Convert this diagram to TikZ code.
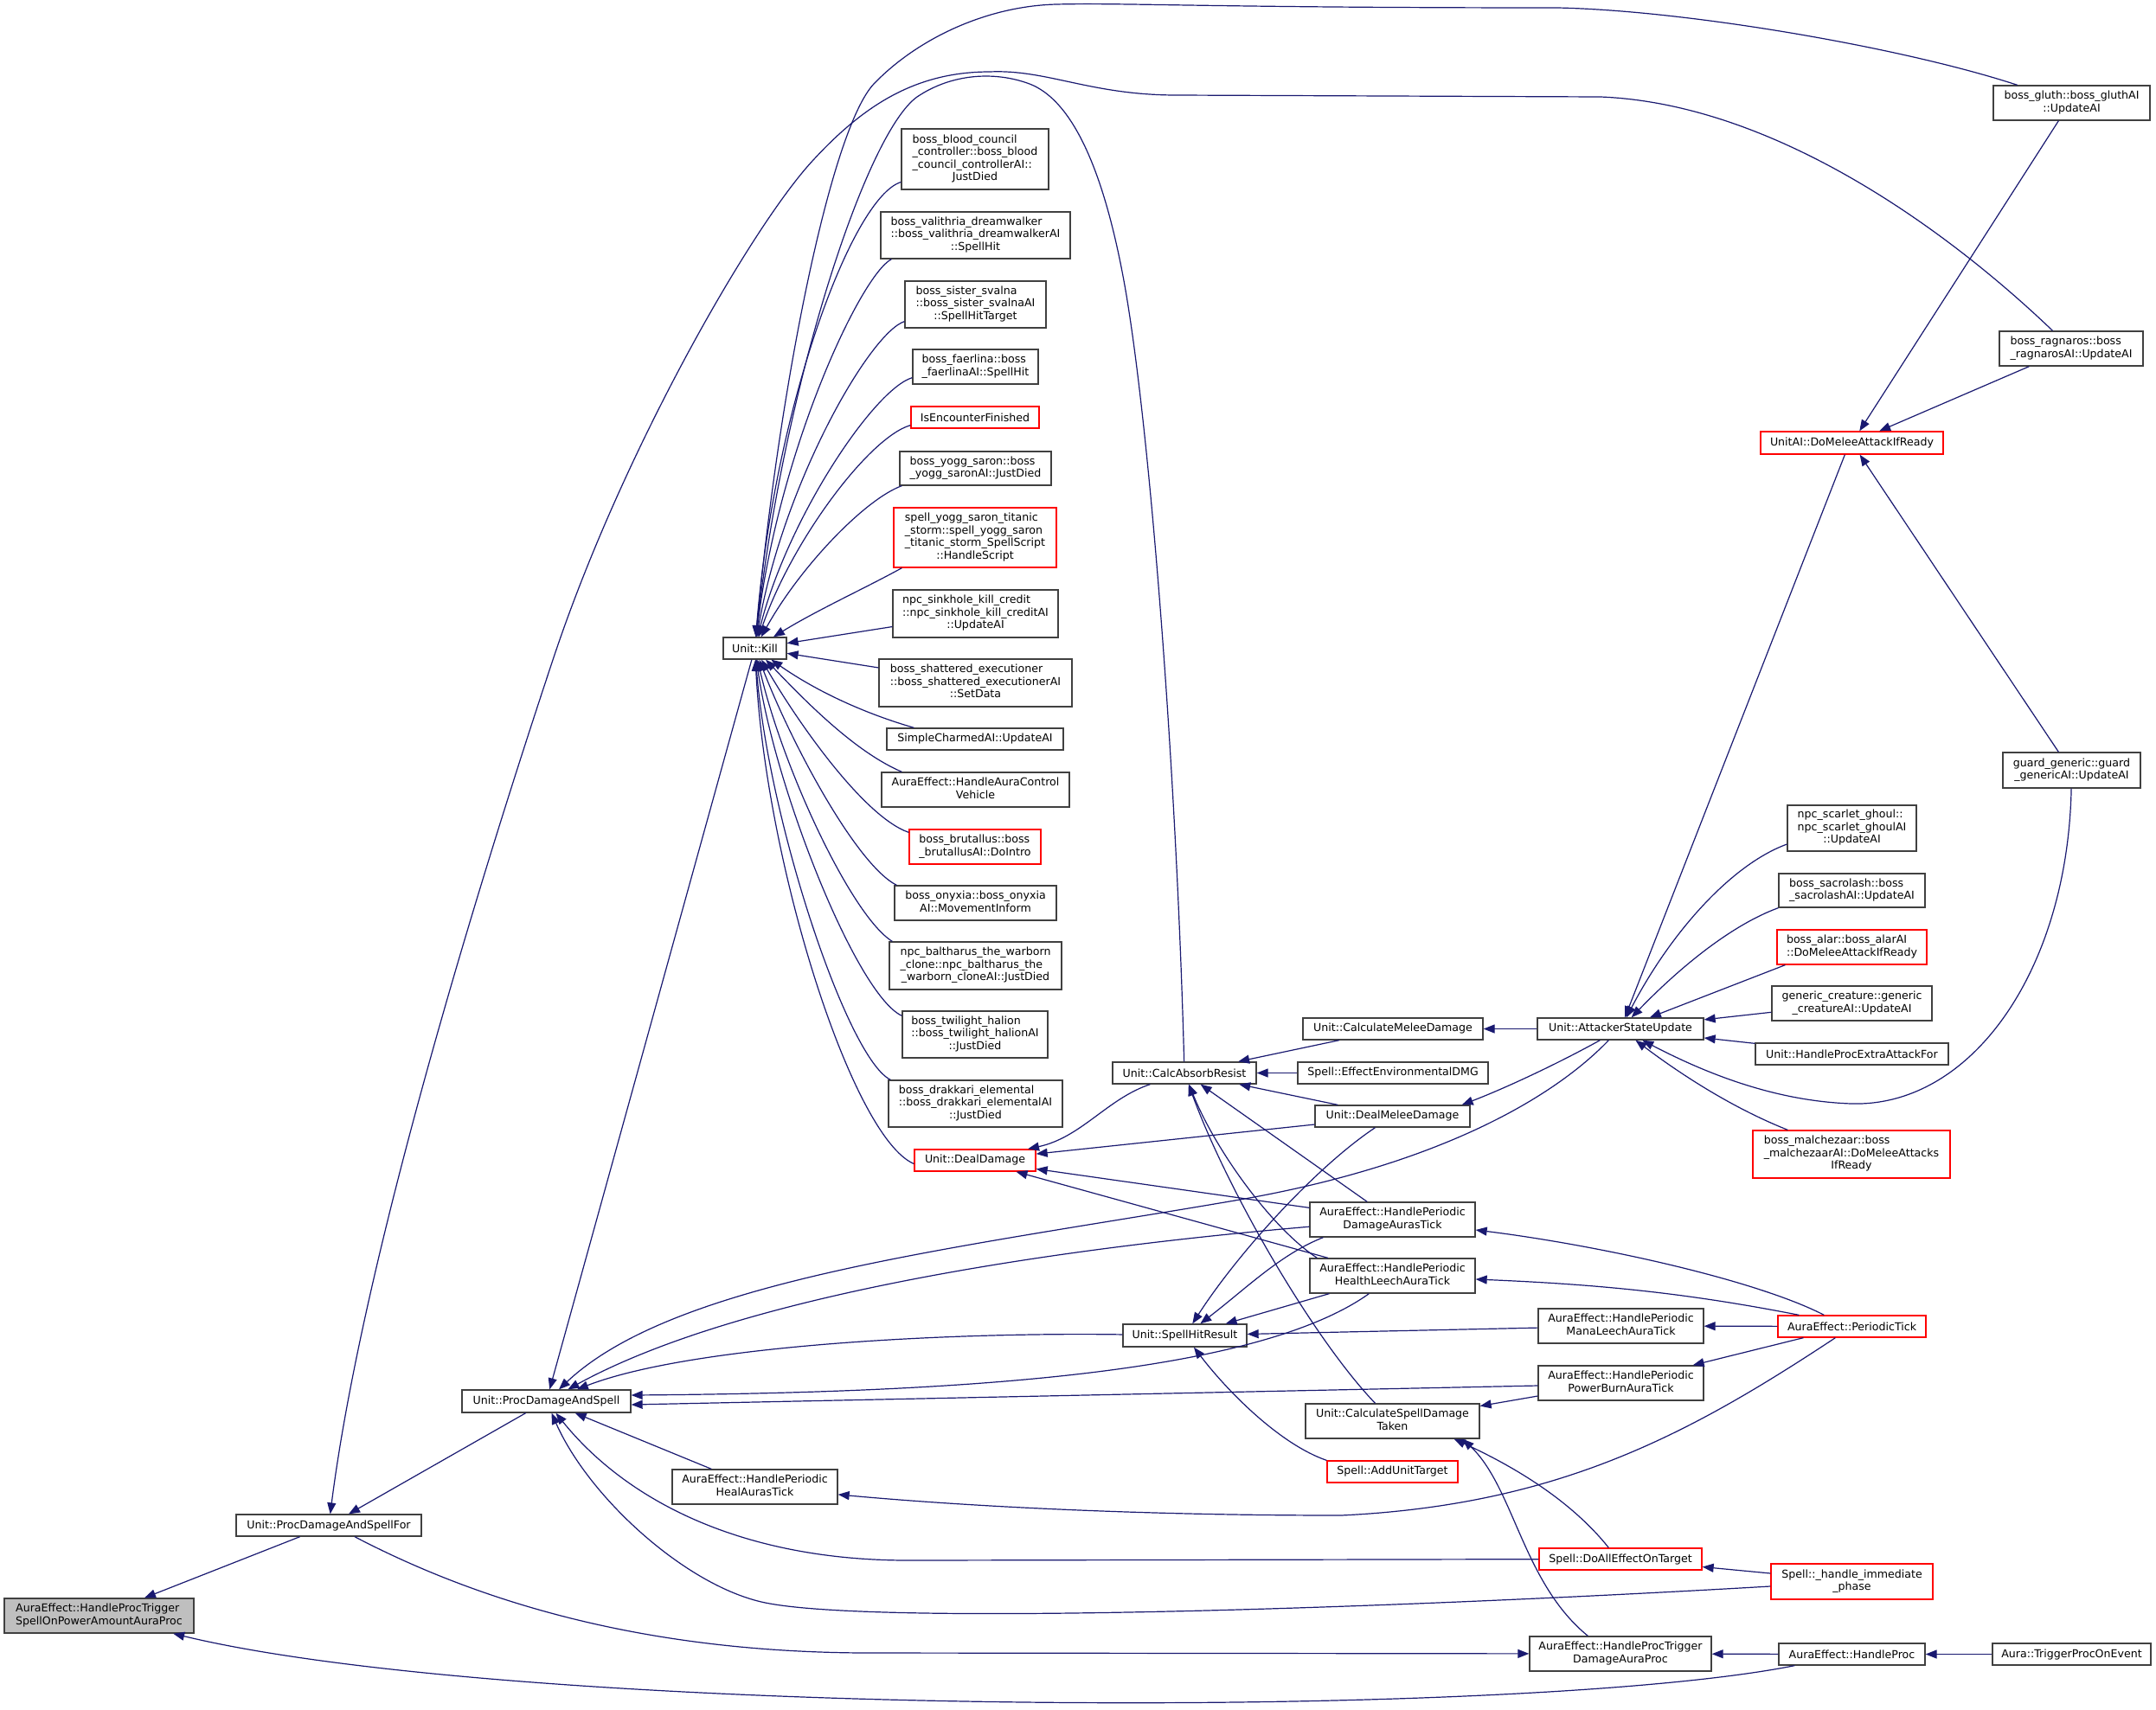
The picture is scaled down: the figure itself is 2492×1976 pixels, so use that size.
\documentclass[tikz,border=0pt]{standalone}
\usepackage{fontspec}
\setmainfont{DejaVu Sans}
\usetikzlibrary{arrows.meta}
\definecolor{edgec}{HTML}{191970}
\definecolor{boxc}{HTML}{404040}
\definecolor{redc}{HTML}{FF0000}
\definecolor{mainfill}{HTML}{BFBFBF}
\newcommand{\Lblk}[1]{\begin{tabular}{@{}l@{}}#1\end{tabular}}
\newcommand{\Cln}[1]{\multicolumn{1}{@{}c@{}}{#1}}
\newcommand{\mkbox}[7]{\node[#1, minimum width={(#5-#3)*1pt}, minimum height={(#6-#4)*1pt}] (#2) at ({(#3+#5)/2},{(#4+#6)/2}) {#7};}
\begin{document}
\begin{tikzpicture}[x=1pt,y=-1pt,
  box/.style={draw=boxc, line width=1.3pt, fill=white, inner sep=0pt, font=\fontsize{12.6}{14.5}\selectfont},
  redbox/.style={box, draw=redc},
  mainbox/.style={box, fill=mainfill},
  e/.style={draw=edgec, line width=1.2pt, -{Triangle[length=13pt,width=10pt]}}]
\fill[white] (0,0) rectangle (2492,1976);
\useasboundingbox (0,0) rectangle (2492,1976);

\mkbox{mainbox}{main}{5}{1848}{224}{1888}{\Lblk{AuraEffect::HandleProcTrigger\\\Cln{SpellOnPowerAmountAuraProc}}}
\mkbox{box}{pdasf}{273}{1751}{487}{1776}{Unit::ProcDamageAndSpellFor}
\mkbox{box}{pdas}{534}{1607}{729}{1633}{Unit::ProcDamageAndSpell}
\mkbox{box}{heal}{777}{1699}{968}{1739}{\Lblk{AuraEffect::HandlePeriodic\\\Cln{HealAurasTick}}}
\mkbox{box}{kill}{836}{737}{909}{762}{Unit::Kill}
\mkbox{box}{blood}{1042}{149}{1212}{219}{\Lblk{boss\_blood\_council\\\_controller::boss\_blood\\\_council\_controllerAI::\\\Cln{JustDied}}}
\mkbox{box}{valithria}{1018}{245}{1237}{299}{\Lblk{boss\_valithria\_dreamwalker\\::boss\_valithria\_dreamwalkerAI\\\Cln{::SpellHit}}}
\mkbox{box}{svalna}{1046}{325}{1209}{379}{\Lblk{boss\_sister\_svalna\\::boss\_sister\_svalnaAI\\\Cln{::SpellHitTarget}}}
\mkbox{box}{faerlina}{1055}{404}{1200}{444}{\Lblk{boss\_faerlina::boss\\\Cln{\_faerlinaAI::SpellHit}}}
\mkbox{redbox}{isenc}{1053}{470}{1201}{495}{IsEncounterFinished}
\mkbox{box}{yogg}{1040}{522}{1215}{561}{\Lblk{boss\_yogg\_saron::boss\\\Cln{\_yogg\_saronAI::JustDied}}}
\mkbox{redbox}{titanic}{1033}{587}{1221}{656}{\Lblk{spell\_yogg\_saron\_titanic\\\_storm::spell\_yogg\_saron\\\_titanic\_storm\_SpellScript\\\Cln{::HandleScript}}}
\mkbox{box}{sinkhole}{1032}{682}{1223}{737}{\Lblk{npc\_sinkhole\_kill\_credit\\::npc\_sinkhole\_kill\_creditAI\\\Cln{::UpdateAI}}}
\mkbox{box}{shattered}{1016}{762}{1239}{817}{\Lblk{boss\_shattered\_executioner\\::boss\_shattered\_executionerAI\\\Cln{::SetData}}}
\mkbox{box}{simple}{1025}{842}{1229}{867}{SimpleCharmedAI::UpdateAI}
\mkbox{box}{vehicle}{1019}{893}{1236}{933}{\Lblk{AuraEffect::HandleAuraControl\\\Cln{Vehicle}}}
\mkbox{redbox}{brutallus}{1051}{959}{1203}{999}{\Lblk{boss\_brutallus::boss\\\Cln{\_brutallusAI::DoIntro}}}
\mkbox{box}{onyxia}{1034}{1024}{1221}{1064}{\Lblk{boss\_onyxia::boss\_onyxia\\\Cln{AI::MovementInform}}}
\mkbox{box}{baltharus}{1028}{1089}{1227}{1144}{\Lblk{npc\_baltharus\_the\_warborn\\\_clone::npc\_baltharus\_the\\\Cln{\_warborn\_cloneAI::JustDied}}}
\mkbox{box}{halion}{1043}{1169}{1211}{1223}{\Lblk{boss\_twilight\_halion\\::boss\_twilight\_halionAI\\\Cln{::JustDied}}}
\mkbox{box}{drakkari}{1027}{1249}{1228}{1303}{\Lblk{boss\_drakkari\_elemental\\::boss\_drakkari\_elementalAI\\\Cln{::JustDied}}}
\mkbox{redbox}{dealdmg}{1057}{1329}{1197}{1354}{Unit::DealDamage}
\mkbox{box}{calcabs}{1286}{1228}{1452}{1253}{Unit::CalcAbsorbResist}
\mkbox{box}{spellhit}{1298}{1531}{1441}{1557}{Unit::SpellHitResult}
\mkbox{box}{calcmelee}{1506}{1177}{1714}{1202}{Unit::CalculateMeleeDamage}
\mkbox{box}{envdmg}{1500}{1228}{1720}{1253}{Spell::EffectEnvironmentalDMG}
\mkbox{box}{dealmelee}{1520}{1278}{1699}{1303}{Unit::DealMeleeDamage}
\mkbox{box}{dmgaura}{1514}{1390}{1705}{1430}{\Lblk{AuraEffect::HandlePeriodic\\\Cln{DamageAurasTick}}}
\mkbox{box}{leech}{1514}{1455}{1705}{1495}{\Lblk{AuraEffect::HandlePeriodic\\\Cln{HealthLeechAuraTick}}}
\mkbox{box}{csdt}{1509}{1623}{1710}{1663}{\Lblk{Unit::CalculateSpellDamage\\\Cln{Taken}}}
\mkbox{redbox}{addunit}{1534}{1689}{1685}{1714}{Spell::AddUnitTarget}
\mkbox{box}{asu}{1777}{1177}{1969}{1202}{Unit::AttackerStateUpdate}
\mkbox{box}{mana}{1778}{1513}{1969}{1553}{\Lblk{AuraEffect::HandlePeriodic\\\Cln{ManaLeechAuraTick}}}
\mkbox{box}{burn}{1778}{1579}{1969}{1619}{\Lblk{AuraEffect::HandlePeriodic\\\Cln{PowerBurnAuraTick}}}
\mkbox{redbox}{doall}{1779}{1790}{1967}{1815}{Spell::DoAllEffectOnTarget}
\mkbox{box}{dmgproc}{1768}{1892}{1978}{1932}{\Lblk{AuraEffect::HandleProcTrigger\\\Cln{DamageAuraProc}}}
\mkbox{redbox}{unitai}{2035}{499}{2246}{525}{UnitAI::DoMeleeAttackIfReady}
\mkbox{box}{ghoul}{2066}{931}{2215}{984}{\Lblk{npc\_scarlet\_ghoul::\\npc\_scarlet\_ghoulAI\\\Cln{::UpdateAI}}}
\mkbox{box}{sacrolash}{2056}{1010}{2225}{1049}{\Lblk{boss\_sacrolash::boss\\\Cln{\_sacrolashAI::UpdateAI}}}
\mkbox{redbox}{alar}{2054}{1075}{2227}{1115}{\Lblk{boss\_alar::boss\_alarAI\\\Cln{::DoMeleeAttackIfReady}}}
\mkbox{box}{generic}{2048}{1140}{2233}{1180}{\Lblk{generic\_creature::generic\\\Cln{\_creatureAI::UpdateAI}}}
\mkbox{box}{extra}{2029}{1206}{2252}{1231}{Unit::HandleProcExtraAttackFor}
\mkbox{redbox}{malchezaar}{2026}{1307}{2254}{1362}{\Lblk{boss\_malchezaar::boss\\\_malchezaarAI::DoMeleeAttacks\\\Cln{IfReady}}}
\mkbox{redbox}{periodic}{2055}{1521}{2226}{1546}{AuraEffect::PeriodicTick}
\mkbox{redbox}{immediate}{2047}{1808}{2234}{1849}{\Lblk{Spell::\_handle\_immediate\\\Cln{\_phase}}}
\mkbox{box}{handleproc}{2056}{1900}{2225}{1925}{AuraEffect::HandleProc}
\mkbox{box}{gluth}{2304}{99}{2485}{139}{\Lblk{boss\_gluth::boss\_gluthAI\\\Cln{::UpdateAI}}}
\mkbox{box}{ragnaros}{2311}{383}{2477}{423}{\Lblk{boss\_ragnaros::boss\\\Cln{\_ragnarosAI::UpdateAI}}}
\mkbox{box}{guard}{2315}{870}{2474}{911}{\Lblk{guard\_generic::guard\\\Cln{\_genericAI::UpdateAI}}}
\mkbox{box}{trigger}{2303}{1900}{2486}{1925}{Aura::TriggerProcOnEvent}

% main and proc-for
\draw[e] (pdasf) -- (main);
\draw[e] (handleproc) .. controls (1750,1990) and (600,1985) .. (main);
\draw[e] (pdas) -- (pdasf);
\draw[e] ([xshift=30pt]pdasf.south) .. controls (560,1855) and (750,1910) .. (1000,1911) -- (dmgproc);
\draw[e] (ragnaros) .. controls (2250,265) and (2050,120) .. (1850,112) -- (1360,110) .. controls (1260,110) and (1210,80) .. (1144,83) .. controls (1060,83) and (1000,120) .. (940,185) .. controls (870,260) and (720,520) .. (640,760) .. controls (560,1000) and (420,1450) .. (pdasf);

% Unit::Kill callers
\draw[e] (blood) .. controls (985,228) and (895,470) .. (kill);
\draw[e] ([xshift=13pt]valithria.south west) .. controls (995,318) and (900,520) .. (kill);
\draw[e] ([yshift=8pt]svalna.south west) .. controls (1005,385) and (905,560) .. (kill);
\draw[e] ([yshift=8pt]faerlina.south west) .. controls (1010,450) and (910,600) .. (kill);
\draw[e] ([yshift=4pt]isenc.south west) .. controls (1005,505) and (915,625) .. (kill);
\draw[e] ([xshift=3pt]yogg.south west) .. controls (1000,577) and (925,655) .. (kill);
\draw[e] ([xshift=10pt]titanic.south west) .. controls (1000,680) and (945,705) .. (kill);
\draw[e] (sinkhole) -- (kill);
\draw[e] (shattered) -- (kill);
\draw[e] ([xshift=32pt]simple.north west) .. controls (1000,825) and (945,800) .. (kill);
\draw[e] ([xshift=24pt]vehicle.north west) .. controls (990,870) and (935,815) .. (kill);
\draw[e] ([yshift=-4pt]brutallus.north west) .. controls (1000,945) and (925,840) .. (kill);
\draw[e] ([xshift=3pt]onyxia.north west) .. controls (990,1000) and (915,860) .. (kill);
\draw[e] ([xshift=4pt]baltharus.north west) .. controls (985,1060) and (905,890) .. (kill);
\draw[e] ([yshift=-6pt]halion.north west) .. controls (990,1150) and (895,910) .. (kill);
\draw[e] ([xshift=3pt]drakkari.north west) .. controls (980,1225) and (888,950) .. (kill);
\draw[e] ([yshift=-4pt]dealdmg.west) .. controls (985,1315) and (885,1000) .. (kill);
\draw[e] (gluth) .. controls (2200,55) and (1950,12) .. (1800,9) .. controls (1400,9) and (1300,3) .. (1221,5) .. controls (1140,7) and (1060,45) .. (1010,97) .. controls (960,150) and (900,450) .. (kill);
\draw[e] (calcabs) .. controls (1360,900) and (1330,500) .. (1300,330) .. controls (1282,230) and (1250,120) .. (1190,97) .. controls (1150,82) and (1100,85) .. (1060,112) .. controls (1000,155) and (905,450) .. (kill);
\draw[e] (kill) -- (pdas);

% DealDamage, CalcAbsorbResist
\draw[e] (calcabs) .. controls (1280,1270) and (1250,1315) .. (dealdmg);
\draw[e] (dealmelee) -- (dealdmg);
\draw[e] (dmgaura) -- (dealdmg);
\draw[e] (leech) -- (dealdmg);
\draw[e] (calcmelee) -- (calcabs);
\draw[e] (envdmg) -- (calcabs);
\draw[e] (dealmelee) -- (calcabs);
\draw[e] (dmgaura) -- (calcabs);
\draw[e] ([xshift=9pt]leech.north west) .. controls (1470,1420) and (1405,1330) .. (calcabs);
\draw[e] ([xshift=-20pt]csdt.north) .. controls (1520,1550) and (1420,1380) .. (calcabs);

% SpellHitResult
\draw[e] (spellhit) .. controls (1100,1540) and (800,1555) .. (pdas);
\draw[e] ([xshift=-20pt]dealmelee.south) .. controls (1520,1350) and (1430,1450) .. (spellhit);
\draw[e] ([xshift=16pt]dmgaura.south west) .. controls (1480,1450) and (1440,1490) .. (spellhit);
\draw[e] ([xshift=23pt]leech.south west) -- (spellhit);
\draw[e] (mana) -- (spellhit);
\draw[e] (addunit.north west) .. controls (1480,1670) and (1420,1610) .. (spellhit);

% ProcDamageAndSpell callers
\draw[e] ([xshift=83pt]asu.south west) .. controls (1790,1275) and (1650,1350) .. (1427,1388) .. controls (1100,1444) and (780,1480) .. (pdas);
\draw[e] (dmgaura) .. controls (1200,1445) and (850,1500) .. (pdas);
\draw[e] ([xshift=69pt]leech.south west) .. controls (1450,1590) and (1100,1610) .. ([yshift=7pt]pdas.east);
\draw[e] ([yshift=-3pt]burn.west) -- ([yshift=-4pt]pdas.east);
\draw[e] (heal) -- (pdas);
\draw[e] (doall) -- (1050,1804) .. controls (850,1804) and (720,1730) .. (pdas);
\draw[e] (immediate) .. controls (1600,1860) and (1000,1880) .. (880,1852) .. controls (790,1831) and (680,1730) .. (pdas);

% CalculateSpellDamageTaken
\draw[e] ([yshift=-15pt]burn.west) -- (csdt);
\draw[e] ([xshift=81pt]doall.north west) .. controls (1820,1740) and (1760,1700) .. ([xshift=-30pt]csdt.south east);
\draw[e] ([xshift=68pt]dmgproc.north west) .. controls (1760,1830) and (1750,1720) .. ([xshift=-20pt]csdt.south east);

% PeriodicTick
\draw[e] ([xshift=25pt]periodic.north west) .. controls (1950,1495) and (1850,1485) .. (leech);
\draw[e] ([xshift=54pt]periodic.north west) .. controls (2030,1480) and (1850,1440) .. (dmgaura);
\draw[e] (periodic) -- (mana);
\draw[e] ([xshift=30pt]periodic.south west) -- (burn);
\draw[e] ([xshift=67pt]periodic.south west) .. controls (1950,1660) and (1800,1740) .. (1550,1752) .. controls (1300,1752) and (1100,1740) .. (heal);
\draw[e] ([yshift=9.5pt]immediate.west) -- (doall);

% AttackerStateUpdate
\draw[e] ([xshift=73pt]asu.south west) .. controls (1800,1230) and (1740,1258) .. ([xshift=-10pt]dealmelee.north east);
\draw[e] (asu) -- (calcmelee);
\draw[e] ([xshift=98pt]unitai.south west) -- (asu);
\draw[e] ([yshift=-18.5pt]ghoul.west) .. controls (2000,1000) and (1930,1080) .. (asu);
\draw[e] (sacrolash.south west) .. controls (2000,1070) and (1940,1120) .. (asu);
\draw[e] ([xshift=10pt]alar.south west) -- (asu);
\draw[e] (generic) -- (asu);
\draw[e] (extra) -- (asu);
\draw[e] (guard) .. controls (2390,1120) and (2280,1280) .. (2140,1276) .. controls (2050,1273) and (1970,1240) .. (asu);
\draw[e] ([xshift=41pt]malchezaar.north west) .. controls (2000,1280) and (1940,1240) .. (asu);

% UnitAI
\draw[e] ([xshift=76pt]gluth.south west) -- (unitai);
\draw[e] ([xshift=35pt]ragnaros.south west) -- (unitai);
\draw[e] ([xshift=65pt]guard.north west) -- (unitai);

% HandleProc
\draw[e] (trigger) -- (handleproc);
\draw[e] (handleproc) -- (dmgproc);
\end{tikzpicture}
\end{document}
